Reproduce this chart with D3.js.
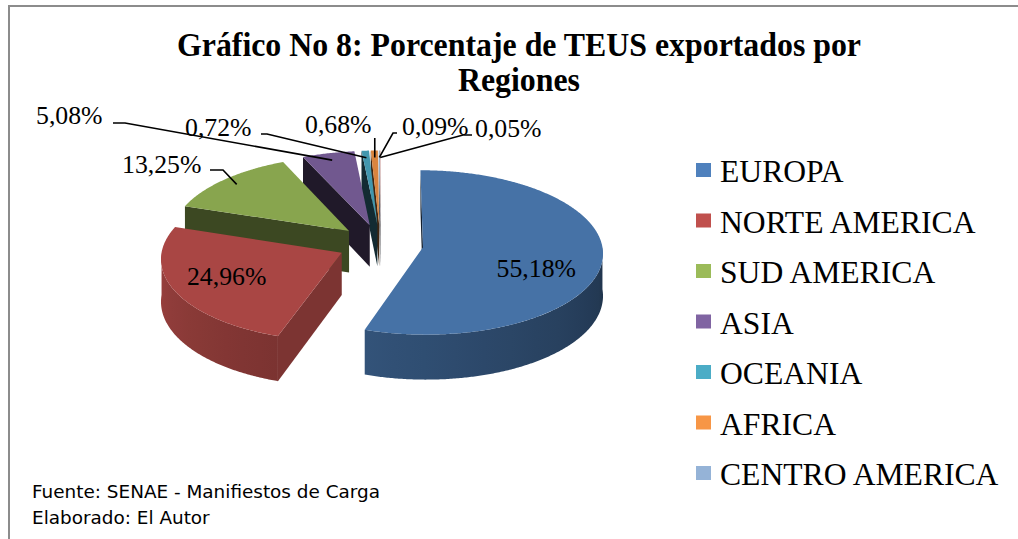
<!DOCTYPE html>
<html><head><meta charset="utf-8">
<script src="https://cdn.jsdelivr.net/npm/d3@7"></script>
<style>body{margin:0;background:#fff}svg{display:block}</style>
</head><body>
<svg id="chart" width="1018" height="539"></svg>
<script>
// ---------------- DATA ----------------
const categories = ["EUROPA","NORTE AMERICA","SUD AMERICA","ASIA","OCEANIA","AFRICA","CENTRO AMERICA","OTROS"];
const values = [55.18, 24.96, 13.25, 5.08, 0.72, 0.68, 0.09, 0.05];
const valueLabels = ["55,18%","24,96%","13,25%","5,08%","0,72%","0,68%","0,09%","0,05%"];
const colors = ["#4F81BD","#C0504D","#9BBB59","#8064A2","#4BACC6","#F79646","#95B3D7","#D99694"];
const legendVisible = 7; // the 8th legend entry is cut off in the original
const titleLines = ["Gráfico No 8: Porcentaje de TEUS exportados por", "Regiones"];
const notes = ["Fuente: SENAE - Manifiestos de Carga", "Elaborado: El Autor"];

// ---------------- LAYOUT ----------------
const W = 1018, H = 539;
const G = {cx: 380.5, cy: 244, R: 179, tilt: 0.455, persp: 0.064, depth: 42, explode: 0.24};
const insideLabel = {0: {dx: 2.5, dy: 21.5}, 1: {dx: -12.5, dy: 9}};
const outsideLabel = {
  2: {x: 122, y: 173, lead: [[210,170],[223,170]]},
  3: {x: 36,  y: 124, lead: [[113,123],[125,123]]},
  4: {x: 185, y: 136, lead: [[261,134],[267,134]]},
  5: {x: 305, y: 133, lead: "vertical", top: 138},
  6: {x: 402, y: 135, lead: [[397,133],[393,133]]},
  7: {x: 475, y: 137, lead: [[472,135],[463,135]]}
};
const SERIF = "'Liberation Serif','Times New Roman',Times,serif";

const svg = d3.select("#chart");
const defs = svg.append("defs");

svg.append("rect").attr("x", 9).attr("y", 6).attr("width", W + 40).attr("height", H + 40)
  .attr("fill", "#fff").attr("stroke", "#8c8c8c").attr("stroke-width", 2);

function fitText(sel, widthFn) {
  sel.each(function(d, i) {
    d3.select(this).attr("textLength", widthFn(this.getComputedTextLength(), i)).attr("lengthAdjust", "spacingAndGlyphs");
  });
}

// title
const tl = svg.append("g").attr("font-family", SERIF).attr("font-weight", "bold")
  .attr("font-size", 33).attr("text-anchor", "middle")
  .selectAll("text").data(titleLines).join("text")
  .attr("x", 519).attr("y", (d, i) => 56 + i * 35).text(d => d);
const tStretch = 684 / tl.node().getComputedTextLength();
fitText(tl, len => len * tStretch);

// ---------------- PIE GEOMETRY ----------------
function proj(u, v, h) {
  const s = 1 / (1 + G.persp * v);
  return [G.cx + G.R * u * s, G.cy - G.R * G.tilt * v * s + h * s];
}
function shade(c, f) { const r = d3.rgb(c); return d3.rgb(r.r * f, r.g * f, r.b * f).formatHex(); }
const step = Math.PI / 360;
function rim(s, a, h, r = 1) { return proj(s.u0 + r * Math.sin(a), s.v0 + r * Math.cos(a), h); }
function arcPts(s, a, b, h) {
  const n = Math.max(1, Math.ceil(Math.abs(b - a) / step));
  return d3.range(n + 1).map(k => rim(s, a + (b - a) * k / n, h));
}
const line = d3.line();
const D = 1 / G.persp;

const arcs = d3.pie().sort(null).value(d => d)(values);
const slices = arcs.map((a, i) => {
  const mid = (a.startAngle + a.endAngle) / 2;
  return {i, a0: a.startAngle, a1: a.endAngle, mid,
    u0: G.explode * Math.sin(mid), v0: G.explode * Math.cos(mid), color: colors[i]};
});

const sideLight = a => 0.40 + (a - Math.PI / 2) / Math.PI * 0.40;
const faceLight = n => { let deg = ((n * 180 / Math.PI) % 360 + 360) % 360; return Math.max(0.25, 0.65 - (deg - 108) * 0.0029); };

const sideG = svg.append("g");
const topG = svg.append("g");

slices.slice().sort((p, q) => q.v0 - p.v0).forEach(s => {
  const g = sideG.append("g");
  const apexT = proj(s.u0, s.v0, 0), apexB = proj(s.u0, s.v0, G.depth);
  const dotS = s.u0 * Math.cos(s.a0) - Math.sin(s.a0) * (D + s.v0);
  if (dotS > 0) {
    g.append("path").attr("d", line([apexT, rim(s, s.a0, 0), rim(s, s.a0, G.depth), apexB]) + "Z")
      .attr("fill", shade(s.color, faceLight(s.a0 - Math.PI / 2)));
  }
  const dotE = -s.u0 * Math.cos(s.a1) + Math.sin(s.a1) * (D + s.v0);
  if (dotE > 0) {
    g.append("path").attr("d", line([apexT, rim(s, s.a1, 0), rim(s, s.a1, G.depth), apexB]) + "Z")
      .attr("fill", shade(s.color, faceLight(s.a1 + Math.PI / 2)));
  }
  const b0 = Math.max(s.a0, Math.PI / 2), b1 = Math.min(s.a1, 3 * Math.PI / 2);
  if (b1 > b0) {
    const id = "side" + s.i;
    const pts = d3.range(13).map(k => { const a = b0 + (b1 - b0) * k / 12; return {a, x: rim(s, a, 0)[0]}; });
    const mn = d3.min(pts, p => p.x), mx = d3.max(pts, p => p.x);
    const gr = defs.append("linearGradient").attr("id", id).attr("x1", 0).attr("x2", 1).attr("y1", 0).attr("y2", 0);
    pts.sort((p, q) => p.x - q.x).forEach(p => gr.append("stop")
      .attr("offset", (p.x - mn) / ((mx - mn) || 1)).attr("stop-color", shade(s.color, sideLight(p.a))));
    const top = arcPts(s, b0, b1, 0), bot = arcPts(s, b1, b0, G.depth);
    g.append("path").attr("d", line(top.concat(bot)) + "Z").attr("fill", `url(#${id})`);
  }
});

slices.forEach(s => {
  const pts = [proj(s.u0, s.v0, 0)].concat(arcPts(s, s.a0, s.a1, 0));
  topG.append("path").attr("d", line(pts) + "Z").attr("fill", shade(s.color, 0.88));
});

// ---------------- LABELS ----------------
const lab = svg.append("g").attr("font-family", SERIF).attr("font-size", 25).attr("fill", "#000");
const leaders = svg.append("g").attr("fill", "none").attr("stroke", "#000").attr("stroke-width", 1.6);

slices.forEach(s => {
  if (insideLabel[s.i]) {
    const o = insideLabel[s.i];
    const p = proj(s.u0 + 0.62 * Math.sin(s.mid), s.v0 + 0.62 * Math.cos(s.mid), 0);
    lab.append("text").attr("x", p[0] + o.dx).attr("y", p[1] + o.dy)
      .attr("text-anchor", "middle").text(valueLabels[s.i]);
  } else if (outsideLabel[s.i]) {
    const o = outsideLabel[s.i];
    lab.append("text").attr("x", o.x).attr("y", o.y).text(valueLabels[s.i]);
    const end = rim(s, s.mid, 0, 0.9);
    const pts = o.lead === "vertical" ? [[end[0], o.top], end] : o.lead.concat([end]);
    leaders.append("path").attr("d", line(pts));
  }
});
fitText(lab.selectAll("text"), len => len * 1.03);

// ---------------- LEGEND ----------------
const leg = svg.append("g").attr("font-family", SERIF).attr("font-size", 31);
const items = leg.selectAll("g").data(categories.slice(0, legendVisible)).join("g")
  .attr("transform", (d, i) => `translate(696,${182 + i * 50.5})`);
items.append("rect").attr("x", 0).attr("y", -19).attr("width", 15).attr("height", 14)
  .attr("fill", (d, i) => colors[i]);
const lt = items.append("text").attr("x", 24).attr("y", 0).text(d => d);
fitText(lt, len => len * 1.02);

// ---------------- NOTES ----------------
const nt = svg.append("g").attr("font-family", "'DejaVu Sans',Verdana,sans-serif").attr("font-size", 17)
  .selectAll("text").data(notes).join("text")
  .attr("x", 32).attr("y", (d, i) => 498 + i * 26).text(d => d);
const nStretch = 348 / nt.node().getComputedTextLength();
fitText(nt, len => len * nStretch);
</script>
</body></html>
